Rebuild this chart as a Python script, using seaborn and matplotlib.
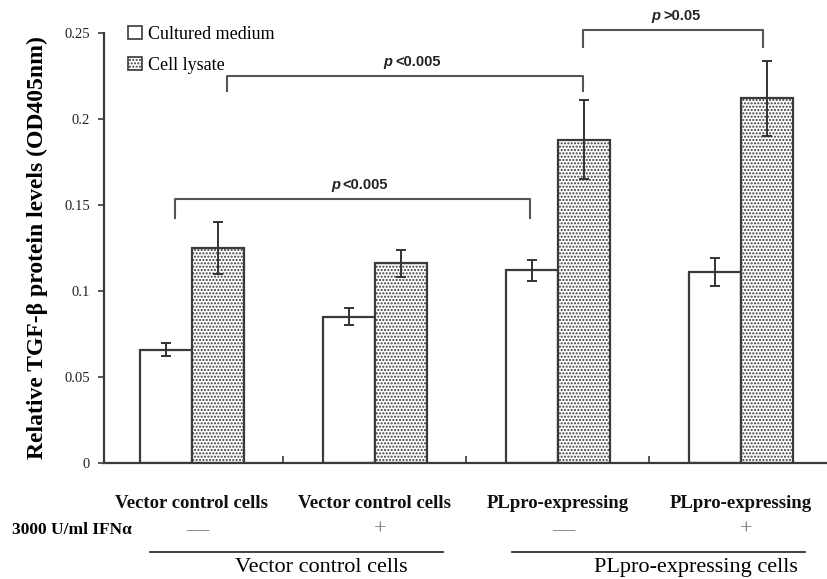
import pandas as pd
import matplotlib.pyplot as plt
import matplotlib.transforms as mtransforms
from matplotlib.patches import Patch
import seaborn as sns

# Data
groups = ['Vector control cells', 'Vector control cells ', 'PLpro-expressing', 'PLpro-expressing ']
group_labels = ['Vector control cells', 'Vector control cells', 'PLpro-expressing', 'PLpro-expressing']
ifn_signs = ['\u2014', '+', '\u2014', '+']
medium_vals = [0.066, 0.085, 0.112, 0.111]
medium_err = [0.004, 0.005, 0.006, 0.008]
lysate_vals = [0.125, 0.116, 0.188, 0.212]
lysate_err = [0.015, 0.008, 0.023, 0.022]
series = ['Cultured medium', 'Cell lysate']

df = pd.DataFrame({
    'group': groups * 2,
    'series': [series[0]] * 4 + [series[1]] * 4,
    'value': medium_vals + lysate_vals,
})

serif = 'Liberation Serif'
sans = 'Liberation Sans'
edge = '#3a3a3a'
plt.rcParams['hatch.color'] = '#4d4d4d'
plt.rcParams['hatch.linewidth'] = 1.0

fig = plt.figure(figsize=(8.27, 5.79), dpi=100)
ax = fig.add_axes([0.1258, 0.2003, 0.874, 0.7427])

sns.barplot(data=df, x='group', y='value', hue='series', order=groups,
            hue_order=series, palette=['white', 'white'], width=0.57,
            errorbar=None, legend=False, ax=ax)

errs = [medium_err, lysate_err]
bar_conts = list(ax.containers)
for i, cont in enumerate(bar_conts):
    xs, ys = [], []
    for p in cont.patches:
        p.set_edgecolor(edge)
        p.set_linewidth(1.6)
        p.set_facecolor('white')
        if i == 1:
            p.set_hatch('.....')
        xs.append(p.get_x() + p.get_width() / 2)
        ys.append(p.get_height())
    ax.errorbar(xs, ys, yerr=errs[i], fmt='none', ecolor='#333333',
                elinewidth=1.4, capsize=3.5, capthick=1.4, zorder=5)

ax.set_xlim(-0.48, 3.47)
ax.set_ylim(0, 0.25)
ax.set_yticks([0, 0.05, 0.1, 0.15, 0.2, 0.25])
ax.set_yticklabels(['0', '0.05', '0.1', '0.15', '0.2', '0.25'],
                   fontfamily=serif, fontsize=10.5, color='#222222')
ax.tick_params(axis='y', direction='out', length=4, width=1.2, color=edge, pad=6)
ax.set_xticks(range(4))
ax.set_xticklabels(group_labels, fontfamily=serif, fontweight='bold',
                   fontsize=13.5, color='#111111')
ax.tick_params(axis='x', which='major', length=0, pad=23)
ax.set_xticks([0.5, 1.5, 2.5], minor=True)
ax.tick_params(axis='x', which='minor', direction='in', length=5, width=1.2, color=edge)
ax.set_xlabel('')
ax.set_ylabel('Relative TGF-\u03b2 protein levels (OD405nm)', fontfamily=serif,
              fontweight='bold', fontsize=17, labelpad=12)
for s in ['top', 'right']:
    ax.spines[s].set_visible(False)
for s in ['left', 'bottom']:
    ax.spines[s].set_color(edge)
    ax.spines[s].set_linewidth(1.6)

# significance brackets (x in data coords, y in data units)
brackets = [
    (-0.093, 1.85, 0.1535, 0.1425, 0.1425, '<0.005'),
    (0.19, 2.14, 0.225, 0.2165, 0.216, '<0.005'),
    (2.14, 3.12, 0.2516, 0.242, 0.242, '>0.05'),
]
for x0, x1, yt, yl, yr, txt in brackets:
    ax.plot([x0, x0, x1, x1], [yl, yt, yt, yr], color='#555555', lw=1.5,
            clip_on=False, zorder=6)
    xm = (x0 + x1) / 2
    ax.text(xm - 0.07, yt + 0.004, 'p', fontfamily=sans, fontweight='bold',
            style='italic', fontsize=10.5, ha='right', va='bottom', color='#222222')
    ax.text(xm - 0.055, yt + 0.004, txt, fontfamily=sans, fontweight='bold',
            fontsize=10.5, ha='left', va='bottom', color='#222222')

# legend
handles = [Patch(facecolor='white', edgecolor=edge, linewidth=1.2),
           Patch(facecolor='white', edgecolor=edge, linewidth=1.2, hatch='.....')]
ax.legend(handles, series, loc='upper left', bbox_to_anchor=(0.011, 1.055),
          frameon=False, handlelength=0.75, handleheight=0.75, handletextpad=0.35,
          labelspacing=0.8, prop={'family': serif, 'size': 13})

# treatment rows under the axis
trans = mtransforms.blended_transform_factory(ax.transData, ax.transAxes)
fig.text(12 / 827, 1 - 530 / 579, '3000 U/ml IFN\u03b1', fontfamily=serif,
         fontweight='bold', fontsize=12.5, va='center', ha='left')
for i, sgn in enumerate(ifn_signs):
    ax.text(i + 0.03, -0.156, sgn, transform=trans, ha='center', va='center',
            fontfamily=serif, fontsize=16, color='#777777')

cell_groups = [('Vector control cells', -0.23, 1.372, 0.71),
               ('PLpro-expressing cells', 1.749, 3.35, 2.754)]
for name, x0, x1, xt in cell_groups:
    ax.plot([x0, x1], [-0.207, -0.207], transform=trans, color='#333333',
            lw=1.3, clip_on=False)
    ax.text(xt, -0.244, name, transform=trans, ha='center',
            va='center', fontfamily=serif, fontsize=16)

fig.savefig('out.png', dpi=100)
